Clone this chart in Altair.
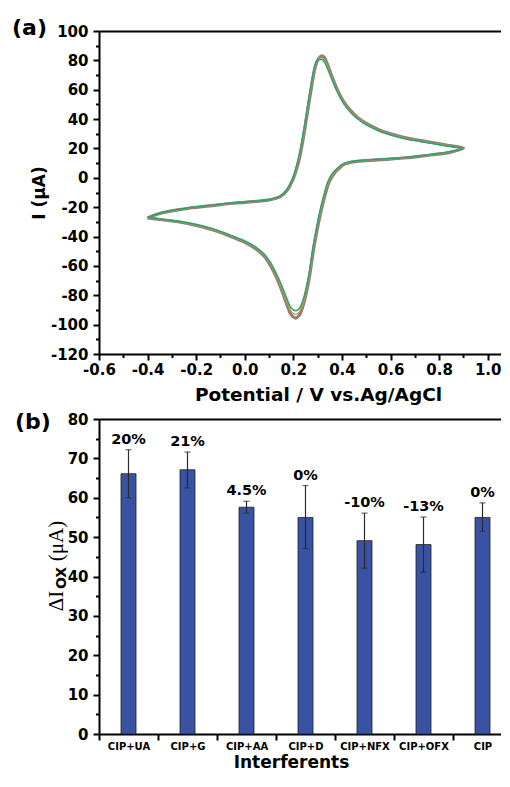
import altair as alt
import pandas as pd

FONT = "DejaVu Sans"
SERIF = "Liberation Serif"
MINUS = "\u2212"

# ---------------- (a) cyclic voltammograms (several overlapping cycles) ----------------
v_forward = [-0.40, -0.35, -0.27, -0.20, -0.135, -0.06, 0.00, 0.06, 0.105, 0.146, 0.174, 0.19,
             0.201, 0.215, 0.228, 0.242, 0.255, 0.266, 0.279, 0.288, 0.297, 0.308, 0.318, 0.327,
             0.335, 0.352, 0.38, 0.407, 0.435, 0.462, 0.50, 0.558, 0.60, 0.668, 0.72, 0.778, 0.84, 0.90]
v_reverse = [0.84, 0.778, 0.72, 0.654, 0.58, 0.517, 0.46, 0.435, 0.41, 0.393, 0.375, 0.359,
             0.345, 0.332, 0.311, 0.284, 0.263, 0.242, 0.225, 0.21, 0.19, 0.174, 0.155, 0.133,
             0.105, 0.078, 0.04, 0.00, -0.06, -0.12, -0.20, -0.27, -0.35, -0.40]

i_grey_fwd = [-27.3, -24.3, -21.7, -20.1, -18.9, -17.5, -16.7, -15.9, -14.9, -12.8, -8.6, -4.0,
              0.0, 7.0, 15.5, 28.0, 41.5, 53.0, 66.0, 74.0, 79.0, 82.0, 83.0, 82.0,
              79.5, 72.0, 60.4, 51.9, 45.9, 41.5, 37.0, 32.3, 30.0, 27.0, 25.5, 23.9, 22.0, 20.2]
i_grey_rev = [17.2, 15.8, 14.6, 13.5, 12.6, 11.9, 11.2, 10.5, 9.3, 7.2, 4.3, 0.8,
              -3.8, -10.8, -25.0, -48.0, -70.5, -86.0, -93.5, -95.5, -93.0, -86.5, -77.8, -68.8,
              -59.5, -53.0, -47.8, -44.0, -39.8, -36.0, -32.4, -30.1, -28.4, -27.3]

i_orange_fwd = [-27.2, -24.1, -21.5, -19.9, -18.7, -17.3, -16.5, -15.7, -14.7, -12.5, -8.2, -3.5,
                0.6, 8.3, 17.3, 30.0, 43.5, 55.0, 67.8, 75.3, 79.4, 81.3, 81.8, 80.5,
                78.0, 70.9, 59.6, 51.2, 45.3, 41.0, 36.5, 31.9, 29.6, 26.6, 25.1, 23.5, 21.7, 20.1]
i_orange_rev = [17.4, 16.0, 14.8, 13.7, 12.8, 12.1, 11.4, 10.8, 9.7, 7.7, 5.0, 1.7,
                -2.7, -9.3, -23.2, -46.0, -68.6, -84.0, -91.2, -93.0, -90.8, -84.5, -76.2, -67.5,
                -58.5, -52.2, -47.1, -43.5, -39.4, -35.6, -32.1, -29.8, -28.2, -27.2]

i_green_fwd = [-27.1, -24.0, -21.4, -19.8, -18.6, -17.2, -16.4, -15.6, -14.6, -12.3, -7.8, -3.0,
               1.3, 9.5, 19.0, 32.0, 45.5, 57.0, 69.5, 76.5, 79.8, 80.6, 80.5, 79.0,
               76.5, 69.8, 58.8, 50.5, 44.7, 40.4, 36.0, 31.5, 29.2, 26.3, 24.8, 23.2, 21.5, 20.0]
i_green_rev = [17.6, 16.2, 15.0, 13.9, 13.0, 12.3, 11.6, 11.0, 10.0, 8.2, 5.7, 2.6,
               -1.5, -7.8, -21.4, -44.1, -66.7, -82.0, -88.8, -90.5, -88.5, -82.5, -74.5, -66.2,
               -57.5, -51.5, -46.5, -43.0, -39.0, -35.3, -31.8, -29.6, -28.0, -27.1]

x_major_a = [-0.6, -0.4, -0.2, 0.0, 0.2, 0.4, 0.6, 0.8, 1.0]
x_minor_a = [-0.5, -0.3, -0.1, 0.1, 0.3, 0.5, 0.7, 0.9]
y_major_a = [-120, -100, -80, -60, -40, -20, 0, 20, 40, 60, 80, 100]
y_minor_a = [-110, -90, -70, -50, -30, -10, 10, 30, 50, 70, 90]

# ---------------- (b) interference study ----------------
interferents = ["CIP+UA", "CIP+G", "CIP+AA", "CIP+D", "CIP+NFX", "CIP+OFX", "CIP"]
dI_mean = [66.1, 67.1, 57.6, 55.0, 49.1, 48.1, 55.0]
dI_low = [60.0, 62.5, 56.1, 47.1, 42.1, 41.1, 51.5]
dI_high = [72.2, 71.6, 59.1, 63.1, 56.1, 55.1, 58.7]
change_labels = ["20%", "21%", "4.5%", "0%", "-10%", "-13%", "0%"]
y_major_b = [0, 10, 20, 30, 40, 50, 60, 70, 80]
y_minor_b = [5, 15, 25, 35, 45, 55, 65, 75]

GREY = "#8b8276"
ORANGE = "#c9974a"
GREEN = "#2ea174"
BAR = "#3953a4"
INK = "#2b2b2b"


def cv_frame(fwd, rev, name):
    cur = fwd + rev
    return pd.DataFrame({"V": v_forward + v_reverse, "I": cur,
                         "idx": list(range(len(cur))), "cycle": name})


def minor_axis(orient, values):
    return alt.Axis(orient=orient, values=values, labels=False, domain=False, title=None,
                    tickSize=3.5, tickWidth=2, grid=False)


def note(txt, xpos, ypos, size=22, font=FONT, weight="bold", angle=0, align="left"):
    return alt.Chart(pd.DataFrame({"t": [txt]})).mark_text(
        align=align, baseline="alphabetic", font=font, fontSize=size, fontWeight=weight,
        color="black", angle=angle
    ).encode(x=alt.value(xpos), y=alt.value(ypos), text="t:N")


ax_top = alt.Axis(orient="top", labels=False, ticks=False, title=None, domain=True)

xs_a = alt.Scale(domain=[-0.6, 1.1], nice=False, zero=False)
ys_a = alt.Scale(domain=[-120, 100], nice=False, zero=False)

ax_a_x = alt.Axis(orient="bottom", values=x_major_a, title="Potential / V vs.Ag/AgCl", titleX=219,
                  labelExpr=f"replace(format(datum.value, '.1f'), '{MINUS}', '-')",
                  labelPadding=2, titlePadding=8, labelFlush=False, labelOverlap=False,
                  titleFontSize=18.5)
ax_a_y = alt.Axis(orient="left", values=y_major_a, title="I (μA)",
                  labelExpr="'' + datum.value",
                  labelPadding=5, titlePadding=2, labelFlush=False, labelOverlap=False,
                  titleFontSize=17)


def cv_layer(df, color, width, xaxis, yaxis):
    return alt.Chart(df).mark_line(color=color, strokeWidth=width, interpolate="catmull-rom").encode(
        x=alt.X("V:Q", scale=xs_a, axis=xaxis),
        y=alt.Y("I:Q", scale=ys_a, axis=yaxis),
        order=alt.Order("idx:Q"),
    )


top = alt.layer(
    cv_layer(cv_frame(i_grey_fwd, i_grey_rev, "grey"), GREY, 3.2, ax_a_x, ax_a_y),
    cv_layer(cv_frame(i_orange_fwd, i_orange_rev, "orange"), ORANGE, 1.4,
             minor_axis("bottom", x_minor_a), minor_axis("left", y_minor_a)),
    cv_layer(cv_frame(i_green_fwd, i_green_rev, "green"), GREEN, 1.5, ax_top, None),
    note("(a)", -87, 4),
).resolve_axis(x="independent", y="independent").properties(width=413, height=323)

# ---------------- bottom panel ----------------
bdf = pd.DataFrame({"cat": interferents, "mean": dI_mean, "lo": dI_low, "hi": dI_high,
                    "lab": change_labels})
xs_b = alt.Scale(domain=interferents, paddingInner=0, paddingOuter=0)
ys_b = alt.Scale(domain=[0, 80], nice=False, zero=True)

ax_b_x = alt.Axis(orient="bottom", title="Interferents", titleX=192, labelAngle=0, tickBand="extent",
                  labelFontSize=10, labelPadding=1, titlePadding=3, titleFontSize=17)
ax_b_y = alt.Axis(orient="left", values=y_major_b, title=None,
                  labelExpr="'' + datum.value", labelPadding=5, labelFlush=False, labelOverlap=False)

bars = alt.Chart(bdf).mark_bar(width=15, color=BAR, stroke="#1f1f1f", strokeWidth=0.8).encode(
    x=alt.X("cat:N", scale=xs_b, sort=interferents, axis=ax_b_x),
    y=alt.Y("mean:Q", scale=ys_b, axis=ax_b_y),
)
err = alt.Chart(bdf).mark_rule(color=INK, strokeWidth=1.2).encode(
    x=alt.X("cat:N", scale=xs_b, sort=interferents, axis=ax_top),
    y=alt.Y("lo:Q", scale=ys_b, axis=minor_axis("left", y_minor_b)),
    y2="hi:Q",
)
cap_hi = alt.Chart(bdf).mark_tick(color=INK, size=6, thickness=1.2).encode(
    x=alt.X("cat:N", scale=xs_b, sort=interferents, axis=None),
    y=alt.Y("hi:Q", scale=ys_b, axis=None),
)
cap_lo = alt.Chart(bdf).mark_tick(color=INK, size=6, thickness=1.2).encode(
    x=alt.X("cat:N", scale=xs_b, sort=interferents, axis=None),
    y=alt.Y("lo:Q", scale=ys_b, axis=None),
)
pct = alt.Chart(bdf).mark_text(baseline="alphabetic", dy=-6, font=FONT, fontWeight="bold",
                               fontSize=14.5, color="black").encode(
    x=alt.X("cat:N", scale=xs_b, sort=interferents, axis=None),
    y=alt.Y("hi:Q", scale=ys_b, axis=None),
    text="lab:N",
)

# y-axis title of panel (b): ΔI with subscript OX, then (μA)
title_b = [
    note("ΔI", -36, 182, size=21, font=SERIF, weight="normal", angle=270, align="center"),
    note("OX", -33.5, 159, size=14, font=FONT, weight="bold", angle=270, align="center"),
    note("(μA)", -36.5, 122, size=21, font=SERIF, weight="normal", angle=270, align="center"),
]

bottom = alt.layer(bars, err, cap_hi, cap_lo, pct, note("(b)", -84, 10), *title_b).resolve_axis(
    x="independent", y="independent").properties(width=413, height=315)

chart = alt.vconcat(top, bottom, spacing=7).properties(
    padding={"left": 4, "top": 9, "right": -12, "bottom": 0}
).configure_view(stroke=None).configure_axis(
    labelFont=FONT, labelFontWeight="bold", labelFontSize=15, labelColor="black",
    titleFont=FONT, titleFontWeight="bold", titleColor="black",
    domainColor="black", domainWidth=2, tickColor="black", tickWidth=2, tickSize=6, grid=False,
)

chart.save("out.html", embed_options={"renderer": "svg", "actions": False})
